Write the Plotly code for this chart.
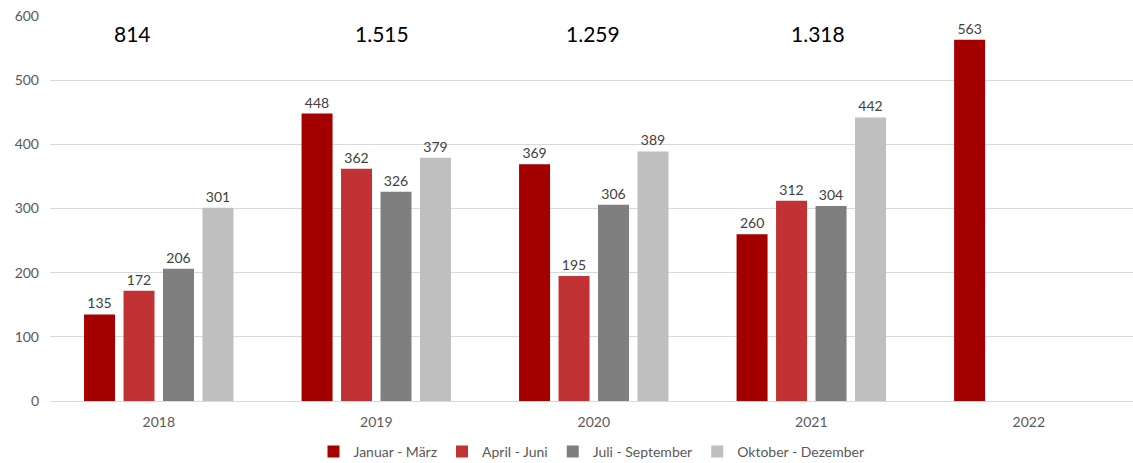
import plotly.graph_objects as go

years = ["2018", "2019", "2020", "2021", "2022"]
q1 = [135, 448, 369, 260, 563]
q2 = [172, 362, 195, 312, None]
q3 = [206, 326, 306, 304, None]
q4 = [301, 379, 389, 442, None]
series_names = ["Januar - März", "April - Juni", "Juli - September", "Oktober - Dezember"]
colors = ["#A50000", "#C03233", "#7F7F7F", "#BFBFBF"]
totals = ["814", "1.515", "1.259", "1.318"]
total_x = [-0.12, 1.025, 1.995, 3.03]
total_y = 572

FONT = "Lato"
fig = go.Figure()
for name, vals, col in zip(series_names, [q1, q2, q3, q4], colors):
    fig.add_trace(go.Bar(
        x=years, y=vals, name=name, marker_color=col, marker_line_width=0,
        text=[("" if v is None else str(v)) for v in vals],
        textposition="outside", cliponaxis=False,
        textfont=dict(size=14, color="#404040", family=FONT),
    ))

for t, xx in zip(totals, total_x):
    fig.add_annotation(x=xx, y=total_y, xref="x", yref="y", text=t, showarrow=False,
                       font=dict(size=21, color="#000000", family=FONT))

fig.update_layout(
    width=1133, height=463,
    margin=dict(l=50, r=0, t=16, b=62, autoexpand=False),
    paper_bgcolor="white", plot_bgcolor="white",
    barmode="group", bargap=0.274, bargroupgap=0.215,
    font=dict(family=FONT, size=14, color="#595959"),
    showlegend=True,
    legend=dict(orientation="h", x=0.5, xanchor="center", y=-0.1325, yanchor="middle",
                font=dict(size=14, color="#595959", family=FONT),
                itemwidth=30, traceorder="normal"),
)
fig.update_xaxes(type="category", range=[-0.5, 4.479], showgrid=False, showline=True,
                 linecolor="#D9D9D9", linewidth=1, ticks="", automargin=False,
                 ticklabelstandoff=8, tickfont=dict(size=14, color="#595959"))
fig.update_yaxes(range=[0, 600], dtick=100, showgrid=True, gridcolor="#D9D9D9", gridwidth=1,
                 zeroline=False, showline=False, ticks="", ticklabelstandoff=10, automargin=False,
                 ticklabeloverflow="allow", tickfont=dict(size=14, color="#595959"))

fig.write_html("out.html", config={"displayModeBar": False},
               post_script="document.body.style.margin='0';document.body.style.overflow='hidden';")
